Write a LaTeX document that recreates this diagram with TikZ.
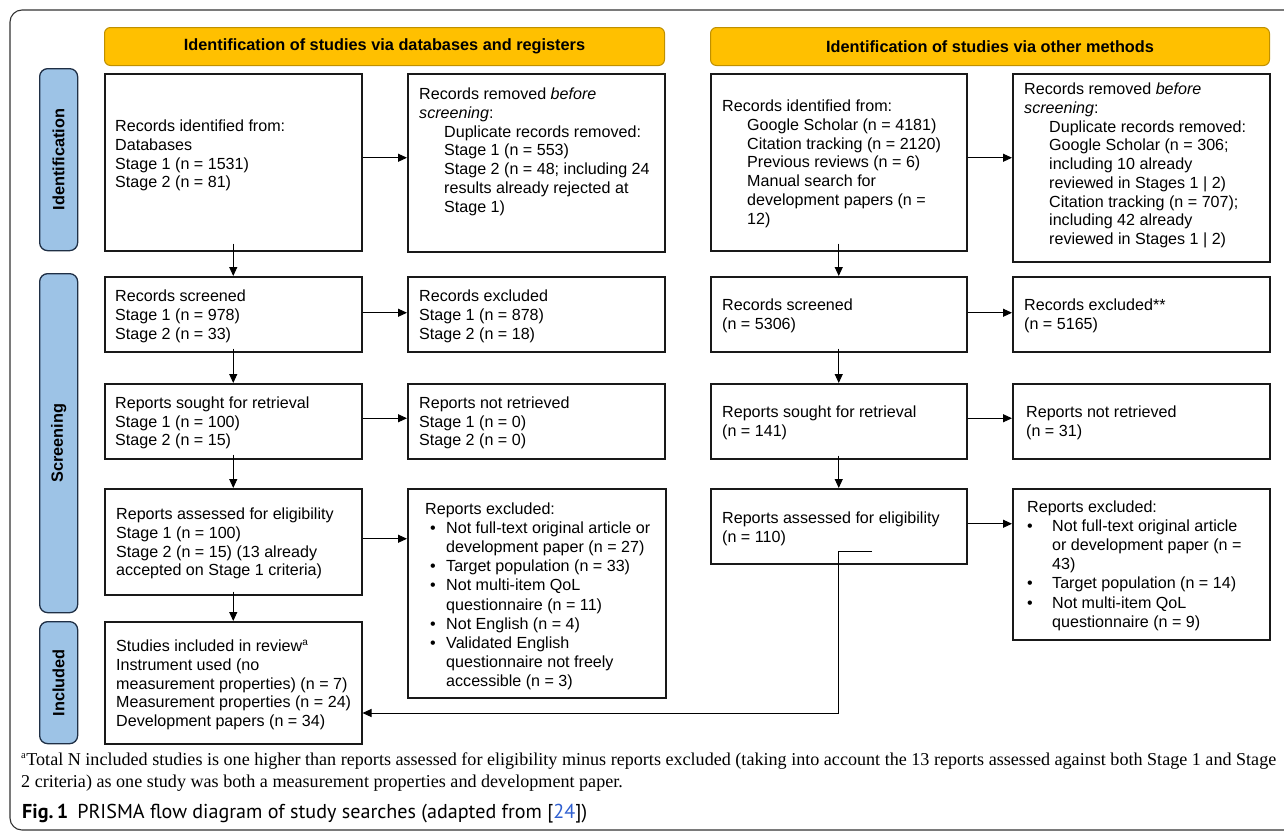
\documentclass[tikz,border=0pt]{standalone}
\usepackage{fontspec}
\setmainfont{Liberation Sans}
\newfontfamily\seriffont{Liberation Serif}
\newfontfamily\capfont{PT Sans}
\usetikzlibrary{arrows.meta,calc}
\definecolor{hdrfill}{HTML}{FFC000}
\definecolor{hdrline}{HTML}{BF9000}
\definecolor{barfill}{HTML}{9DC3E6}
\definecolor{barline}{HTML}{1F2F45}
\definecolor{refblue}{HTML}{2F5FD0}
\begin{document}
\begin{tikzpicture}[x=1pt,y=-1pt,
  frame/.style={draw=black!80, line width=1.1pt},
  hdr/.style={draw=hdrline, fill=hdrfill, line width=1pt, rounded corners=6pt, anchor=north west, inner sep=0pt, font=\fontsize{16.3}{19}\selectfont\bfseries},
  sidebar/.style={draw=barline, fill=barfill, line width=1.3pt, rounded corners=8pt, anchor=north west, inner sep=0pt},
  barlabel/.style={rotate=90, inner sep=0pt, font=\fontsize{16.3}{19}\selectfont\bfseries},
  box/.style={draw=black!90, line width=1.5pt, inner sep=0pt, anchor=north west},
  txt/.style={inner sep=0pt, anchor=north west, align=left, font=\fontsize{16.1}{18.7}\selectfont},
  txtb/.style={inner sep=0pt, anchor=north west, align=left, font=\fontsize{16.1}{19.15}\selectfont},
  arr/.style={draw=black, line width=1pt, -{Triangle[length=9pt,width=8pt]}},
]
\useasboundingbox (0,0) rectangle (1284,833);

% outer frame
\draw[frame, rounded corners=12pt] (1284,830) -- (10,830) -- (10,10) -- (1284,10);

% headers
\node[hdr, minimum width=560pt, minimum height=38pt] (h1) at (104,27) {Identification of studies via databases and registers};
\node[hdr, minimum width=559pt, minimum height=38pt] (h2) at (710,27) {Identification of studies via other methods};

% side bars
\node[sidebar, minimum width=38pt, minimum height=182pt] (s1) at (39,68) {};
\node[barlabel] (s1t) at (s1.center) {Identification};
\node[sidebar, minimum width=38pt, minimum height=339pt] (s2) at (39,273) {};
\node[barlabel] (s2t) at (s2.center) {Screening};
\node[sidebar, minimum width=38pt, minimum height=122pt] (s3) at (39,621) {};
\node[barlabel] (s3t) at (s3.center) {Included};

% left column boxes
\node[box, minimum width=257pt, minimum height=177pt] (a1) at (104,73) {};
\node[box, minimum width=257pt, minimum height=178pt] (a2) at (407,73) {};
\node[box, minimum width=257pt, minimum height=75pt] (b1) at (104,276) {};
\node[box, minimum width=257pt, minimum height=75pt] (b2) at (407,276) {};
\node[box, minimum width=257pt, minimum height=75pt] (c1) at (104,383) {};
\node[box, minimum width=257pt, minimum height=75pt] (c2) at (407,383) {};
\node[box, minimum width=257pt, minimum height=106pt] (d1) at (104,488) {};
\node[box, minimum width=258pt, minimum height=209pt] (d2) at (407,488) {};
\node[box, minimum width=257pt, minimum height=122pt] (e1) at (104,621) {};

% right column boxes
\node[box, minimum width=256pt, minimum height=177pt] (ra1) at (710,73) {};
\node[box, minimum width=257pt, minimum height=188pt] (ra2) at (1012,73) {};
\node[box, minimum width=256pt, minimum height=75pt] (rb1) at (710,276) {};
\node[box, minimum width=257pt, minimum height=75pt] (rb2) at (1012,276) {};
\node[box, minimum width=256pt, minimum height=75pt] (rc1) at (710,383) {};
\node[box, minimum width=257pt, minimum height=75pt] (rc2) at (1012,383) {};
\node[box, minimum width=256pt, minimum height=75pt] (rd1) at (710,488) {};
\node[box, minimum width=257pt, minimum height=151pt] (rd2) at (1012,488) {};

% texts left
\node[txt] (a1t) at (115,120) {Records identified from:\\Databases\\Stage 1 (n = 1531)\\Stage 2 (n = 81)};
\node[txt] (a2t) at (419,88) {Records removed \textit{before}\\\textit{screening}:\\
\hspace*{25pt}Duplicate records removed:\\\hspace*{25pt}Stage 1 (n = 553)\\
\hspace*{25pt}Stage 2 (n = 48; including 24\\\hspace*{25pt}results already rejected at\\\hspace*{25pt}Stage 1)};
\node[txt] (b1t) at (115,290) {Records screened\\Stage 1 (n = 978)\\Stage 2 (n = 33)};
\node[txt] (b2t) at (419,290) {Records excluded\\Stage 1 (n = 878)\\Stage 2 (n = 18)};
\node[txt] (c1t) at (115,396.5) {Reports sought for retrieval\\Stage 1 (n = 100)\\Stage 2 (n = 15)};
\node[txt] (c2t) at (419,396.5) {Reports not retrieved\\Stage 1 (n = 0)\\Stage 2 (n = 0)};
\node[txt] (d1t) at (116,508) {Reports assessed for eligibility\\Stage 1 (n = 100)\\Stage 2 (n = 15) (13 already\\accepted on Stage 1 criteria)};
\node[txtb] (d2t) at (425,502.5) {Reports excluded:\\
\hspace*{5pt}\makebox[16pt][l]{•}Not full-text original article or\\
\hspace*{21pt}development paper (n = 27)\\
\hspace*{5pt}\makebox[16pt][l]{•}Target population (n = 33)\\
\hspace*{5pt}\makebox[16pt][l]{•}Not multi-item QoL\\
\hspace*{21pt}questionnaire (n = 11)\\
\hspace*{5pt}\makebox[16pt][l]{•}Not English (n = 4)\\
\hspace*{5pt}\makebox[16pt][l]{•}Validated English\\
\hspace*{21pt}questionnaire not freely\\
\hspace*{21pt}accessible (n = 3)};
\node[txt] (e1t) at (116,640) {Studies included in review\textsuperscript{\fontsize{10}{10}\selectfont a}\\Instrument used (no\\measurement properties) (n = 7)\\Measurement properties (n = 24)\\Development papers (n = 34)};

% texts right
\node[txt] (ra1t) at (722,100) {Records identified from:\\
\hspace*{25pt}Google Scholar (n = 4181)\\\hspace*{25pt}Citation tracking (n = 2120)\\
\hspace*{25pt}Previous reviews (n = 6)\\\hspace*{25pt}Manual search for\\
\hspace*{25pt}development papers (n =\\\hspace*{25pt}12)};
\node[txt] (ra2t) at (1024,83) {Records removed \textit{before}\\\textit{screening}:\\
\hspace*{25pt}Duplicate records removed:\\\hspace*{25pt}Google Scholar (n = 306;\\
\hspace*{25pt}including 10 already\\\hspace*{25pt}reviewed in Stages 1 | 2)\\
\hspace*{25pt}Citation tracking (n = 707);\\\hspace*{25pt}including 42 already\\
\hspace*{25pt}reviewed in Stages 1 | 2)};
\node[txt] (rb1t) at (722,299) {Records screened\\(n = 5306)};
\node[txt] (rb2t) at (1024,299) {Records excluded**\\(n = 5165)};
\node[txt] (rc1t) at (722,405.5) {Reports sought for retrieval\\(n = 141)};
\node[txt] (rc2t) at (1026,405.5) {Reports not retrieved\\(n = 31)};
\node[txt] (rd1t) at (722,512) {Reports assessed for eligibility\\(n = 110)};
\node[txtb] (rd2t) at (1027,500.5) {Reports excluded:\\
\makebox[25pt][l]{•}Not full-text original article\\
\hspace*{25pt}or development paper (n =\\
\hspace*{25pt}43)\\
\makebox[25pt][l]{•}Target population (n = 14)\\
\makebox[25pt][l]{•}Not multi-item QoL\\
\hspace*{25pt}questionnaire (n = 9)};

% horizontal arrows
\draw[arr] ([yshift=4.5pt]a1.east) -- ([yshift=4.5pt]a1.east -| a2.west);
\draw[arr] ([yshift=1.5pt]b1.east) -- ([yshift=1.5pt]b1.east -| b2.west);
\draw[arr] ([yshift=3pt]c1.east) -- ([yshift=3pt]c1.east -| c2.west);
\draw[arr] ([yshift=3pt]d1.east) -- ([yshift=3pt]d1.east -| d2.west);
\draw[arr] ([yshift=4.5pt]ra1.east) -- ([yshift=4.5pt]ra1.east -| ra2.west);
\draw[arr] ([yshift=1.5pt]rb1.east) -- ([yshift=1.5pt]rb1.east -| rb2.west);
\draw[arr] ([yshift=3pt]rc1.east) -- ([yshift=3pt]rc1.east -| rc2.west);
\draw[arr] ([yshift=2.5pt]rd1.east) -- ([yshift=2.5pt]rd1.east -| rd2.west);

% vertical arrows
\draw[arr] ([yshift=8pt]a1.south) -- (b1.north);
\draw[arr] ([yshift=4pt]b1.south) -- (c1.north);
\draw[arr] ([yshift=5pt]c1.south) -- (d1.north);
\draw[arr] ([yshift=4pt]d1.south) -- (e1.north);
\draw[arr] ([yshift=8pt]ra1.south) -- (rb1.north);
\draw[arr] ([yshift=4pt]rb1.south) -- (rc1.north);
\draw[arr] ([yshift=4pt]rc1.south) -- (rd1.north);

% link from right eligibility to included
\coordinate (stubR) at (872,551);
\coordinate (stubL) at (838,551);
\coordinate (turn) at (838,713);
\draw[arr] (stubR) -- (stubL) -- (turn) -- (turn -| e1.east);

% footnote and caption
\node[inner sep=0pt, anchor=base west, font=\seriffont\fontsize{18.1}{22}\selectfont] (fn1) at (21,765) {\textsuperscript{\fontsize{10.5}{10.5}\selectfont a}Total N included studies is one higher than reports assessed for eligibility minus reports excluded (taking into account the 13 reports assessed against both Stage 1 and Stage};
\node[inner sep=0pt, anchor=base west, font=\seriffont\fontsize{18.1}{22}\selectfont] (fn2) at (21,787) {2 criteria) as one study was both a measurement properties and development paper.};
\node[inner sep=0pt, anchor=base west, font=\capfont\fontsize{20.1}{23}\selectfont] (cap) at (22,818) {\textbf{Fig.\,1}\hspace{9pt}PRISMA flow diagram of study searches (adapted from [\textcolor{refblue}{24}])};
\end{tikzpicture}
\end{document}
